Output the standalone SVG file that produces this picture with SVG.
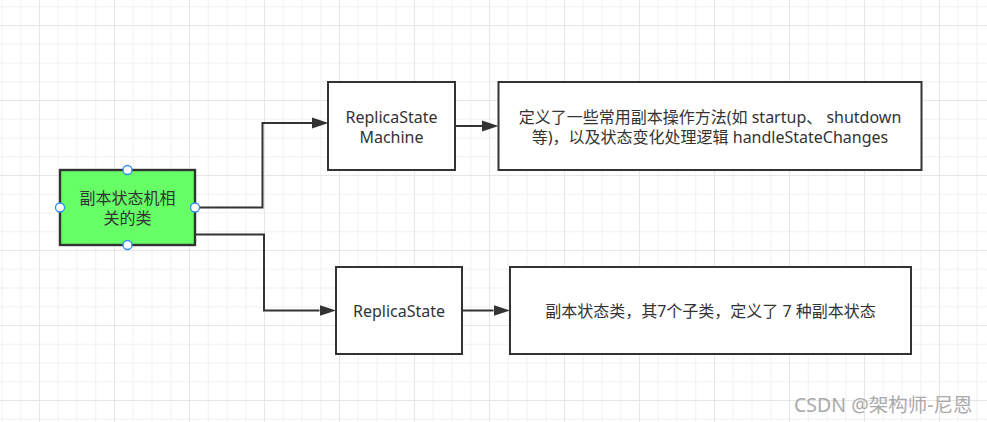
<svg xmlns="http://www.w3.org/2000/svg" width="987" height="422" viewBox="0 0 987 422">
  <style>
    .box { fill: #ffffff; stroke: #333333; stroke-width: 2; }
    .green { fill: #66ff66; stroke: #333333; stroke-width: 2.4; }
    .t { font-family: "Noto Sans", "Noto Sans CJK SC", sans-serif; font-size: 16px; fill: #333333; text-anchor: middle; }
    .conn { fill: none; stroke: #333333; stroke-width: 2; }
    .handle { fill: #ffffff; stroke: #2f8cf0; stroke-width: 1.3; }
    .wm { font-family: "Noto Sans", "Noto Sans CJK SC", sans-serif; font-size: 19.5px; fill: #aaaaaa; }
  </style>
  <defs>
    <pattern id="grid" patternUnits="userSpaceOnUse" x="39" y="25" width="75" height="75">
      <rect x="0" y="0" width="75" height="75" fill="#ffffff"/>
      <rect x="18.75" y="0" width="1" height="75" fill="#f2f2f2"/>
      <rect x="37.5" y="0" width="1" height="75" fill="#f2f2f2"/>
      <rect x="56.25" y="0" width="1" height="75" fill="#f2f2f2"/>
      <rect x="0" y="18.75" width="75" height="1" fill="#f2f2f2"/>
      <rect x="0" y="37.5" width="75" height="1" fill="#f2f2f2"/>
      <rect x="0" y="56.25" width="75" height="1" fill="#f2f2f2"/>
      <rect x="0" y="0" width="1" height="75" fill="#e6e6e6"/>
      <rect x="0" y="0" width="75" height="1" fill="#e6e6e6"/>
    </pattern>
    <marker id="arrow" markerUnits="userSpaceOnUse" markerWidth="17" markerHeight="12" refX="0" refY="6" orient="auto" viewBox="0 0 17 12">
      <path d="M0,0.5 L16.5,6 L0,11.5 Z" fill="#333333"/>
    </marker>
  </defs>
  <rect x="0" y="0" width="987" height="422" fill="url(#grid)"/>

  <g id="connectors">
    <path class="conn" d="M195,207.5 H262.5 V123 H312" marker-end="url(#arrow)"/>
    <path class="conn" d="M195,234.5 H264 V310.5 H319.5" marker-end="url(#arrow)"/>
    <path class="conn" d="M455,126 H482" marker-end="url(#arrow)"/>
    <path class="conn" d="M462,310.5 H493.5" marker-end="url(#arrow)"/>
  </g>

  <g id="node-main">
    <rect class="green" x="60" y="170" width="135" height="75"/>
    <text class="t" x="127.5" y="204">副本状态机相</text>
    <text class="t" x="127.5" y="224">关的类</text>
    <circle class="handle" cx="127.5" cy="170" r="4.5"/>
    <circle class="handle" cx="60" cy="207.5" r="4.5"/>
    <circle class="handle" cx="195" cy="207.5" r="4.5"/>
    <circle class="handle" cx="127.5" cy="245" r="4.5"/>
  </g>

  <g id="node-rsm">
    <rect class="box" x="328" y="82" width="127" height="88"/>
    <text class="t" x="391.5" y="122.5">ReplicaState</text>
    <text class="t" x="391.5" y="143">Machine</text>
  </g>

  <g id="node-rsm-desc">
    <rect class="box" x="498.5" y="82" width="423" height="88"/>
    <text class="t" x="710" y="122.5">定义了一些常用副本操作方法(如 startup、 shutdown</text>
    <text class="t" x="710" y="143">等)，以及状态变化处理逻辑 handleStateChanges</text>
  </g>

  <g id="node-rs">
    <rect class="box" x="336" y="267" width="126" height="87"/>
    <text class="t" x="399" y="317">ReplicaState</text>
  </g>

  <g id="node-rs-desc">
    <rect class="box" x="510" y="267" width="401" height="87"/>
    <text class="t" x="710.5" y="317">副本状态类，其7个子类，定义了 7 种副本状态</text>
  </g>

  <text class="wm" x="794" y="412">CSDN @架构师-尼恩</text>
</svg>
